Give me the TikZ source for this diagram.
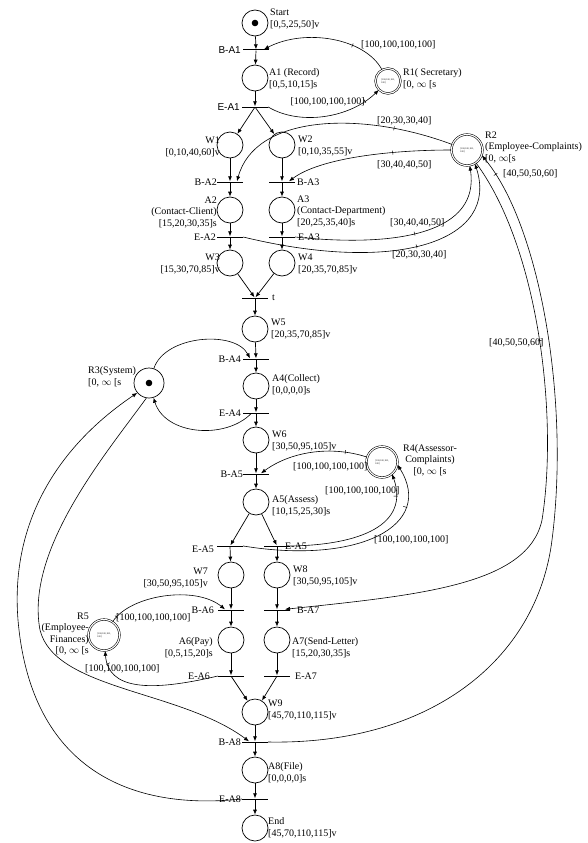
\documentclass[tikz,border=0pt]{standalone}
\usepackage{fontspec}
\setmainfont{Liberation Serif}
\newfontfamily\lblsans{Liberation Sans}
\usetikzlibrary{arrows.meta,decorations.markings}

\tikzset{
  place/.style={circle,draw,line width=0.7pt,minimum size=26pt,inner sep=0pt},
  resplace/.style={circle,draw,double,double distance=1.1pt,line width=0.55pt,
    minimum size=31pt,inner sep=0pt,align=left,font=\fontsize{2.4}{2.7}\selectfont},
  trans/.style={fill=black,minimum width=26pt,minimum height=1pt,inner sep=0pt},
  flow/.style={-{Latex[length=5pt,width=4pt]},line width=0.7pt},
  resarc/.style={-{Latex[length=5pt,width=4pt]},line width=0.6pt},
  wtick/.style={postaction={decorate,decoration={markings,
    mark=at position #1 with {\draw[-,line width=0.5pt] (0,-2pt) -- (0,2pt);}}}},
  lbl/.style={inner sep=0pt,align=left,font=\fontsize{10}{11.5}\selectfont},
}

\begin{document}
\begin{tikzpicture}[x=1pt,y=-1pt]
  \useasboundingbox (0,0) rectangle (587,843);

  % places and transitions of the main flow
  \node[place] (Start) at (255,23) {};
  \node[trans] (BA1) at (256,50) {};
  \node[place] (A1) at (255,78) {};
  \node[trans] (EA1) at (255,107) {};
  \node[place] (W1) at (230,145) {};
  \node[place] (W2) at (282,145) {};
  \node[trans] (BA2) at (230,182) {};
  \node[trans] (BA3) at (282,182) {};
  \node[place] (A2) at (230,210) {};
  \node[place] (A3) at (282,210) {};
  \node[trans] (EA2) at (230,237) {};
  \node[trans] (EA3) at (282,237) {};
  \node[place] (W3) at (230,263) {};
  \node[place] (W4) at (282,263) {};
  \node[trans] (T) at (255,298) {};
  \node[place] (W5) at (255,329) {};
  \node[trans] (BA4) at (256,359) {};
  \node[place] (A4) at (256,386) {};
  \node[trans] (EA4) at (256,413) {};
  \node[place] (W6) at (256,440) {};
  \node[trans] (BA5) at (256,474) {};
  \node[place] (A5) at (256,502) {};
  \node[trans] (EA5a) at (230,546) {};
  \node[trans] (EA5b) at (277,546) {};
  \node[place] (W7) at (231,575) {};
  \node[place] (W8) at (277,575) {};
  \node[trans] (BA6) at (231,610) {};
  \node[trans] (BA7) at (277,610) {};
  \node[place] (A6) at (231,640) {};
  \node[place] (A7) at (277,640) {};
  \node[trans] (EA6) at (231,676) {};
  \node[trans] (EA7) at (277,676) {};
  \node[place] (W9) at (255,712) {};
  \node[trans] (BA8) at (255,742) {};
  \node[place] (A8) at (255,770) {};
  \node[trans] (EA8) at (255,799) {};
  \node[place] (End) at (255,828) {};
  \fill (Start) circle (3.3pt);

  % resources
  \node[resplace,minimum size=25pt] (R1) at (388,81) {[100,100,100,\\100]};
  \node[resplace] (R2) at (467,150) {[100,100,100,\\100]};
  \node[place,minimum size=30pt] (R3) at (149,383) {};
  \fill (R3) circle (3.3pt);
  \node[resplace] (R4) at (382,462) {[100,100,100,\\100]};
  \node[resplace] (R5) at (104,635) {[100,100,100,\\100]};

  % place labels
  \node[lbl,anchor=west] (lStart) at (270,19) {Start\\{}[0,5,25,50]v};
  \node[lbl,anchor=west] (lA1) at (269,79) {A1 (Record)\\{}[0,5,10,15]s};
  \node[lbl,anchor=east,align=right] (lW1) at (220,147) {W1\\{}[0,10,40,60]v};
  \node[lbl,anchor=west] (lW2) at (298,146) {W2\\{}[0,10,35,55]v};
  \node[lbl,anchor=east,align=right] (lA2) at (217,212) {A2\\(Contact-Client)\\{}[15,20,30,35]s};
  \node[lbl,anchor=west] (lA3) at (297,211) {A3\\(Contact-Department)\\{}[20,25,35,40]s};
  \node[lbl,anchor=east,align=right] (lW3) at (220,264) {W3\\{}[15,30,70,85]v};
  \node[lbl,anchor=west] (lW4) at (298,264) {W4\\{}[20,35,70,85]v};
  \node[lbl,anchor=west] (lW5) at (271,329) {W5\\{}[20,35,70,85]v};
  \node[lbl,anchor=west] (lA4) at (272,385) {A4(Collect)\\{}[0,0,0,0]s};
  \node[lbl,anchor=west] (lW6) at (272,441) {W6\\{}[30,50,95,105]v};
  \node[lbl,anchor=west] (lA5) at (272,506) {A5(Assess)\\{}[10,15,25,30]s};
  \node[lbl,anchor=east,align=right] (lW7) at (208,578) {W7\\{}[30,50,95,105]v};
  \node[lbl,anchor=west] (lW8) at (293,576) {W8\\{}[30,50,95,105]v};
  \node[lbl,anchor=east,align=right] (lA6) at (213,648) {A6(Pay)\\{}[0,5,15,20]s};
  \node[lbl,anchor=west] (lA7) at (292,648) {A7(Send-Letter)\\{}[15,20,30,35]s};
  \node[lbl,anchor=west] (lW9) at (268,710) {W9\\{}[45,70,110,115]v};
  \node[lbl,anchor=west] (lA8) at (268,773) {A8(File)\\{}[0,0,0,0]s};
  \node[lbl,anchor=west] (lEnd) at (268,828) {End\\{}[45,70,110,115]v};

  % transition labels
  \node[lbl,anchor=east,font=\lblsans\fontsize{10}{11.5}\selectfont] (lBA1) at (241,50) {B-A1};
  \node[lbl,anchor=east,font=\lblsans\fontsize{10}{11.5}\selectfont] (lEA1) at (240,107) {E-A1};
  \node[lbl,anchor=east] (lBA2) at (217,182) {B-A2};
  \node[lbl,anchor=west] (lBA3) at (297,182) {B-A3};
  \node[lbl,anchor=east] (lEA2) at (216,237) {E-A2};
  \node[lbl,anchor=west] (lEA3) at (298,237) {E-A3};
  \node[lbl,anchor=west] (lT) at (272,298) {t};
  \node[lbl,anchor=east] (lBA4) at (241,359) {B-A4};
  \node[lbl,anchor=east] (lEA4) at (241,413) {E-A4};
  \node[lbl,anchor=east] (lBA5) at (243,474) {B-A5};
  \node[lbl,anchor=east] (lEA5a) at (214,549) {E-A5};
  \node[lbl,anchor=west] (lEA5b) at (285,546) {E-A5};
  \node[lbl,anchor=east] (lBA6) at (214,610) {B-A6};
  \node[lbl,anchor=west] (lBA7) at (297,610) {B-A7};
  \node[lbl,anchor=east] (lEA6) at (210,676) {E-A6};
  \node[lbl,anchor=west] (lEA7) at (295,676) {E-A7};
  \node[lbl,anchor=east] (lBA8) at (241,742) {B-A8};
  \node[lbl,anchor=east] (lEA8) at (241,799) {E-A8};

  % resource labels
  \node[lbl,anchor=west] (lR1) at (403,79) {R1( Secretary)\\{}[0, $\infty$ [s};
  \node[lbl,anchor=west] (lR2) at (485,147) {R2\\(Employee-Complaints)\\{}[0, $\infty$[s};
  \node[lbl,anchor=west] (lR3) at (88,377) {R3(System)\\{}[0, $\infty$ [s};
  \node[lbl,align=center] (lR4) at (430,460) {R4(Assessor-\\Complaints)\\{}[0, $\infty$ [s};
  \node[lbl,anchor=east,align=right] (lR5) at (89,634) {R5\\(Employee-\\Finances)\\{}[0, $\infty$ [s};

  % weights
  \node[lbl,anchor=west] (wR1a) at (361,45) {[100,100,100,100]};
  \node[lbl,anchor=east] (wR1b) at (365,102) {[100,100,100,100]};
  \node[lbl,anchor=west] (wR2a) at (377,121) {[20,30,30,40]};
  \node[lbl,anchor=west] (wR2b) at (377,165) {[30,40,40,50]};
  \node[lbl,anchor=west] (wR2c) at (390,223) {[30,40,40,50]};
  \node[lbl,anchor=west] (wR2d) at (392,255) {[20,30,30,40]};
  \node[lbl,anchor=west] (wR2e) at (503,174) {[40,50,50,60]};
  \node[lbl,anchor=west] (wR2f) at (489,343) {[40,50,50,60]};
  \node[lbl,anchor=west] (wR4a) at (293,467) {[100,100,100,100]};
  \node[lbl,anchor=west] (wR4b) at (325,491) {[100,100,100,100]};
  \node[lbl,anchor=west] (wR4c) at (374,540) {[100,100,100,100]};
  \node[lbl,anchor=west] (wR5a) at (116,618) {[100,100,100,100]};
  \node[lbl,anchor=west] (wR5b) at (85,669) {[100,100,100,100]};

  % control flow
  \draw[flow] (Start) -- (BA1);
  \draw[flow] (BA1) -- (A1);
  \draw[flow] (A1) -- (EA1);
  \draw[flow] (EA1) -- (W1);
  \draw[flow] (EA1) -- (W2);
  \draw[flow] (W1) -- (BA2);
  \draw[flow] (W2) -- (BA3);
  \draw[flow] (BA2) -- (A2);
  \draw[flow] (BA3) -- (A3);
  \draw[flow] (A2) -- (EA2);
  \draw[flow] (A3) -- (EA3);
  \draw[flow] (EA2) -- (W3);
  \draw[flow] (EA3) -- (W4);
  \draw[flow] (W3) -- (T);
  \draw[flow] (W4) -- (T);
  \draw[flow] (T) -- (W5);
  \draw[flow] (W5) -- (BA4);
  \draw[flow] (BA4) -- (A4);
  \draw[flow] (A4) -- (EA4);
  \draw[flow] (EA4) -- (W6);
  \draw[flow] (W6) -- (BA5);
  \draw[flow] (BA5) -- (A5);
  \draw[flow] (A5) -- (EA5a);
  \draw[flow] (A5) -- (EA5b);
  \draw[flow] (EA5a) -- (W7);
  \draw[flow] (EA5b) -- (W8);
  \draw[flow] (W7) -- (BA6);
  \draw[flow] (W8) -- (BA7);
  \draw[flow] (BA6) -- (A6);
  \draw[flow] (BA7) -- (A7);
  \draw[flow] (A6) -- (EA6);
  \draw[flow] (A7) -- (EA7);
  \draw[flow] (EA6) -- (W9);
  \draw[flow] (EA7) -- (W9);
  \draw[flow] (W9) -- (BA8);
  \draw[flow] (BA8) -- (A8);
  \draw[flow] (A8) -- (EA8);
  \draw[flow] (EA8) -- (End);

  % resource arcs
  \draw[resarc,wtick=0.3] (R1) .. controls (365,38) and (305,28) .. ([xshift=8pt]BA1.north);
  \draw[resarc,wtick=0.85] (EA1.east) .. controls (300,126) and (350,118) .. (R1);
  \draw[resarc,wtick=0.25] (R2) .. controls (360,110) and (255,115) .. ([xshift=7pt]BA2.north);
  \draw[resarc,wtick=0.35] (R2) .. controls (390,150) and (320,158) .. ([xshift=7pt]BA3.north);
  \draw[resarc,wtick=0.55] (EA3.east) .. controls (400,248) and (480,232) .. (R2.-80);
  \draw[resarc,wtick=0.6] (EA2.east) .. controls (400,275) and (500,240) .. (R2.-60);
  \draw[resarc,wtick=0.29] (R2.-55) .. controls (540,250) and (558,420) .. (542,520)
    .. controls (528,585) and (420,595) .. ([xshift=8pt]BA7.north);
  \draw[resarc,wtick=0.97] (BA8.east) .. controls (430,745) and (537,660) .. (552,540)
    .. controls (570,400) and (540,225) .. (R2.-20);
  \draw[resarc] (R3) .. controls (165,335) and (235,330) .. ([xshift=-6pt]BA4.north);
  \draw[resarc] ([xshift=-5pt]EA4.south) .. controls (225,440) and (165,435) .. (R3);
  \draw[resarc] (R3.-100) .. controls (105,455) and (25,550) .. (40,630)
    .. controls (55,690) and (180,690) .. ([xshift=-6pt]BA8.north);
  \draw[resarc] (EA8.west) .. controls (120,812) and (30,760) .. (18,620)
    .. controls (10,520) and (60,445) .. (R3.-140);
  \draw[resarc,wtick=0.2] (R4) .. controls (330,445) and (290,452) .. ([xshift=5pt]BA5.north);
  \draw[resarc,wtick=0.85] (EA5b.east) .. controls (360,545) and (410,525) .. (R4.-50);
  \draw[resarc,wtick=0.8] (EA5a.east) .. controls (360,565) and (435,525) .. (R4.-10);
  \draw[resarc,wtick=0.05] (R5) .. controls (130,595) and (195,585) .. ([xshift=-6pt]BA6.north);
  \draw[resarc,wtick=0.9] (EA6.west) .. controls (150,692) and (108,690) .. (R5);
\end{tikzpicture}
\end{document}
